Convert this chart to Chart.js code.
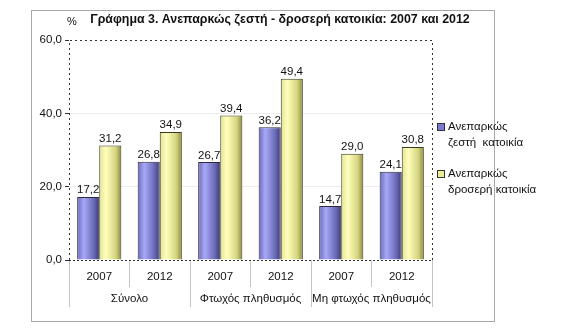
<!DOCTYPE html>
<html>
<head>
<meta charset="utf-8">
<script src="https://cdn.jsdelivr.net/npm/chart.js@4.4.1/dist/chart.umd.min.js"></script>
<style>
  html, body { margin: 0; padding: 0; background: #fff; }
  #wrap { width: 563px; height: 334px; position: relative; }
</style>
</head>
<body>
<div id="wrap"><canvas id="chart1" width="563" height="334"></canvas></div>
<script>
// Data
const years = ['2007', '2012', '2007', '2012', '2007', '2012'];
const groups = ['Σύνολο', 'Φτωχός πληθυσμός', 'Μη φτωχός πληθυσμός'];
const warmValues = [17.2, 26.8, 26.7, 36.2, 14.7, 24.1];
const coolValues = [31.2, 34.9, 39.4, 49.4, 29.0, 30.8];
const seriesNames = [['Ανεπαρκώς', 'ζεστή  κατοικία'], ['Ανεπαρκώς', 'δροσερή κατοικία']];
const titleText = 'Γράφημα 3. Ανεπαρκώς ζεστή - δροσερή κατοικία: 2007 και 2012';
const unitText = '%';
const yMin = 0, yMax = 60, yStep = 20;

const FONT = '"Liberation Sans", Arial, sans-serif';
const fmt = (v) => v.toFixed(1).replace('.', ',');

// Cylinder-ish shading for each series
const shades = [
  [[0, '#6a6ab8'], [0.3, '#a8a8f8'], [0.75, '#6a6ab8'], [1, '#3c3c74']],
  [[0, '#e2e294'], [0.3, '#ffffbc'], [0.75, '#d4d480'], [1, '#8a8a3c']]
];
const flatColors = ['#7a7ad0', '#ecec98'];

function shadeFor(ctx, ds, x0, x1) {
  const g = ctx.createLinearGradient(x0, 0, x1, 0);
  shades[ds].forEach(([p, c]) => g.addColorStop(p, c));
  return g;
}

const decor = {
  id: 'decor',
  beforeDraw(chart) {
    const c = chart.ctx;
    c.save();
    c.strokeStyle = '#a8a8a8';
    c.lineWidth = 1;
    c.strokeRect(31.5, 10.5, 463, 311);
    c.fillStyle = '#111';
    c.font = 'bold 12.4px ' + FONT;
    c.textAlign = 'center';
    c.textBaseline = 'middle';
    c.fillText(titleText, 280, 20);
    c.font = '11px ' + FONT;
    c.fillText(unitText, 72, 22);
    c.restore();
  },
  beforeDatasetsDraw(chart) {
    const c = chart.ctx;
    const a = chart.chartArea;
    c.save();
    c.strokeStyle = '#333';
    c.lineWidth = 1;
    c.setLineDash([2, 3]);
    c.beginPath();
    c.moveTo(a.left + 0.5, a.bottom);
    c.lineTo(a.left + 0.5, a.top + 0.5);
    c.lineTo(a.right + 0.5, a.top + 0.5);
    c.lineTo(a.right + 0.5, a.bottom);
    c.stroke();
    c.setLineDash([2, 2]);
    c.beginPath();
    c.moveTo(a.left, a.bottom + 0.5);
    c.lineTo(a.right, a.bottom + 0.5);
    c.stroke();
    c.restore();
    // gradient fill per bar
    chart.data.datasets.forEach((d, di) => {
      chart.getDatasetMeta(di).data.forEach((bar) => {
        const p = bar.getProps(['x', 'width'], true);
        bar.options = Object.assign({}, bar.options, {
          backgroundColor: shadeFor(c, di, p.x - p.width / 2, p.x + p.width / 2)
        });
      });
    });
  },
  afterDatasetsDraw(chart) {
    const c = chart.ctx;
    c.save();
    c.fillStyle = '#111';
    c.font = '11.5px ' + FONT;
    c.textAlign = 'center';
    c.textBaseline = 'bottom';
    chart.data.datasets.forEach((d, di) => {
      chart.getDatasetMeta(di).data.forEach((bar, i) => {
        c.fillText(fmt(d.data[i]), bar.x, bar.y - 1);
      });
    });
    c.restore();
  },
  afterDraw(chart) {
    const c = chart.ctx;
    c.save();
    c.font = '11.5px ' + FONT;
    c.textBaseline = 'middle';
    c.textAlign = 'left';
    const rows = [127, 174];
    chart.data.datasets.forEach((d, di) => {
      const y = rows[di];
      c.fillStyle = flatColors[di];
      c.fillRect(437.5, y - 3.5, 7, 7);
      c.strokeStyle = '#333';
      c.lineWidth = 1;
      c.strokeRect(437.5, y - 3.5, 7, 7);
      c.fillStyle = '#111';
      d.label.forEach((line, li) => c.fillText(line, 448, y + li * 16));
    });
    c.restore();
  }
};

const sepColor = (last) => (ctx) => ctx.index === last ? 'rgba(0,0,0,0)' : '#c4c4c4';

new Chart(document.getElementById('chart1'), {
  type: 'bar',
  data: {
    labels: years,
    datasets: [
      { label: seriesNames[0], data: warmValues, backgroundColor: flatColors[0], borderColor: '#2a2a3a', borderWidth: 1 },
      { label: seriesNames[1], data: coolValues, backgroundColor: flatColors[1], borderColor: '#3a3a20', borderWidth: 1 }
    ]
  },
  options: {
    responsive: false,
    animation: false,
    events: [],
    layout: { padding: { left: 0, right: 131, top: 40, bottom: 27 } },
    categoryPercentage: 0.73,
    barPercentage: 1,
    plugins: { legend: { display: false }, title: { display: false }, tooltip: { enabled: false } },
    scales: {
      y: {
        min: yMin, max: yMax,
        ticks: { stepSize: yStep, color: '#111', font: { family: FONT, size: 11.5 }, padding: 3, callback: (v) => fmt(v) },
        grid: { color: (ctx) => (ctx.tick.value === yMin || ctx.tick.value === yMax) ? 'rgba(0,0,0,0)' : '#ececec', tickLength: 4, tickColor: '#333' },
        border: { display: false },
        afterFit: (s) => { s.width = 69; }
      },
      x: {
        weight: 0,
        offset: true,
        ticks: { color: '#111', font: { family: FONT, size: 11.5 }, padding: -17, maxRotation: 0, autoSkip: false },
        grid: { offset: true, drawOnChartArea: false, tickLength: 27, color: sepColor(6) },
        border: { display: false },
        afterFit: (s) => { s.height = 27; }
      },
      x2: {
        type: 'category',
        position: 'bottom',
        weight: 1,
        labels: groups,
        offset: true,
        ticks: { color: '#111', font: { family: FONT, size: 11.5 }, padding: -15, maxRotation: 0, autoSkip: false },
        grid: { offset: true, drawOnChartArea: false, tickLength: 20, color: sepColor(3) },
        border: { display: false },
        afterFit: (s) => { s.height = 20; }
      }
    }
  },
  plugins: [decor]
});
</script>
</body>
</html>
